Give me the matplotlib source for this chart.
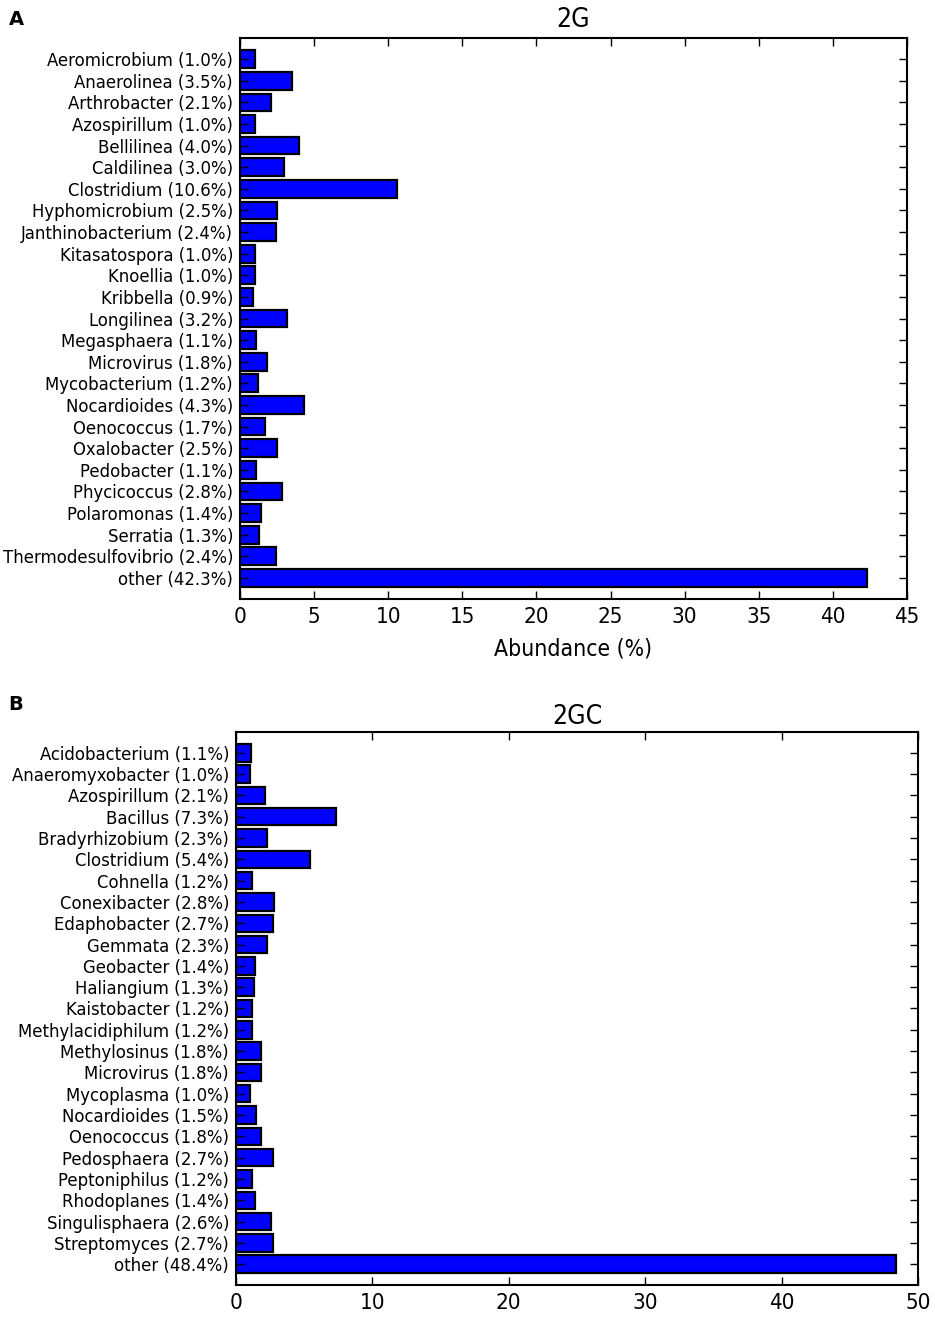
import matplotlib.pyplot as plt
import numpy as np

# panel A data (2G)
names_2g = ['Aeromicrobium', 'Anaerolinea', 'Arthrobacter', 'Azospirillum', 'Bellilinea',
            'Caldilinea', 'Clostridium', 'Hyphomicrobium', 'Janthinobacterium', 'Kitasatospora',
            'Knoellia', 'Kribbella', 'Longilinea', 'Megasphaera', 'Microvirus',
            'Mycobacterium', 'Nocardioides', 'Oenococcus', 'Oxalobacter', 'Pedobacter',
            'Phycicoccus', 'Polaromonas', 'Serratia', 'Thermodesulfovibrio', 'other']
vals_2g = [1.0, 3.5, 2.1, 1.0, 4.0, 3.0, 10.6, 2.5, 2.4, 1.0, 1.0, 0.9, 3.2, 1.1, 1.8,
           1.2, 4.3, 1.7, 2.5, 1.1, 2.8, 1.4, 1.3, 2.4, 42.3]

# panel B data (2GC)
names_2gc = ['Acidobacterium', 'Anaeromyxobacter', 'Azospirillum', 'Bacillus', 'Bradyrhizobium',
             'Clostridium', 'Cohnella', 'Conexibacter', 'Edaphobacter', 'Gemmata',
             'Geobacter', 'Haliangium', 'Kaistobacter', 'Methylacidiphilum', 'Methylosinus',
             'Microvirus', 'Mycoplasma', 'Nocardioides', 'Oenococcus', 'Pedosphaera',
             'Peptoniphilus', 'Rhodoplanes', 'Singulisphaera', 'Streptomyces', 'other']
vals_2gc = [1.1, 1.0, 2.1, 7.3, 2.3, 5.4, 1.2, 2.8, 2.7, 2.3, 1.4, 1.3, 1.2, 1.2, 1.8,
            1.8, 1.0, 1.5, 1.8, 2.7, 1.2, 1.4, 2.6, 2.7, 48.4]

plt.rcParams['font.family'] = 'DejaVu Sans'
plt.rcParams['font.stretch'] = 'condensed'

fig = plt.figure(figsize=(9.35, 13.17), dpi=100)
ax1 = fig.add_axes([0.2567, 0.5452, 0.7133, 0.4259])
ax2 = fig.add_axes([0.2524, 0.0243, 0.7294, 0.4199])


def draw(ax, names, vals, xmax, ticks, title, tpad):
    y = np.arange(len(names))
    ax.barh(y, vals, height=0.82, color='#0000ff', edgecolor='black', linewidth=1.6)
    ax.set_yticks(y)
    ax.set_yticklabels(['%s (%.1f%%)' % (n, v) for n, v in zip(names, vals)], fontsize=13.2)
    ax.set_xlim(0, xmax)
    ax.set_xticks(ticks)
    ax.set_xticklabels([str(t) for t in ticks], fontsize=16)
    ax.set_ylim(len(names) - 0.025, -0.975)
    ax.tick_params(direction='in', top=True, right=True, length=6, width=1)
    ax.tick_params(axis='x', pad=6)
    ax.tick_params(axis='y', pad=5)
    for s in ax.spines.values():
        s.set_linewidth(1.5)
    ax.set_title(title, fontsize=19, pad=tpad)


draw(ax1, names_2g, vals_2g, 45, list(range(0, 46, 5)), '2G', 8)
ax1.set_xlabel('Abundance (%)', fontsize=16.5, labelpad=7)
draw(ax2, names_2gc, vals_2gc, 50, list(range(0, 51, 10)), '2GC', 6)

fig.text(0.009, 0.985, 'A', fontsize=14, fontweight='bold', va='center', stretch='normal')
fig.text(0.009, 0.4647, 'B', fontsize=14, fontweight='bold', va='center', stretch='normal')

fig.savefig('out.png', dpi=100)
